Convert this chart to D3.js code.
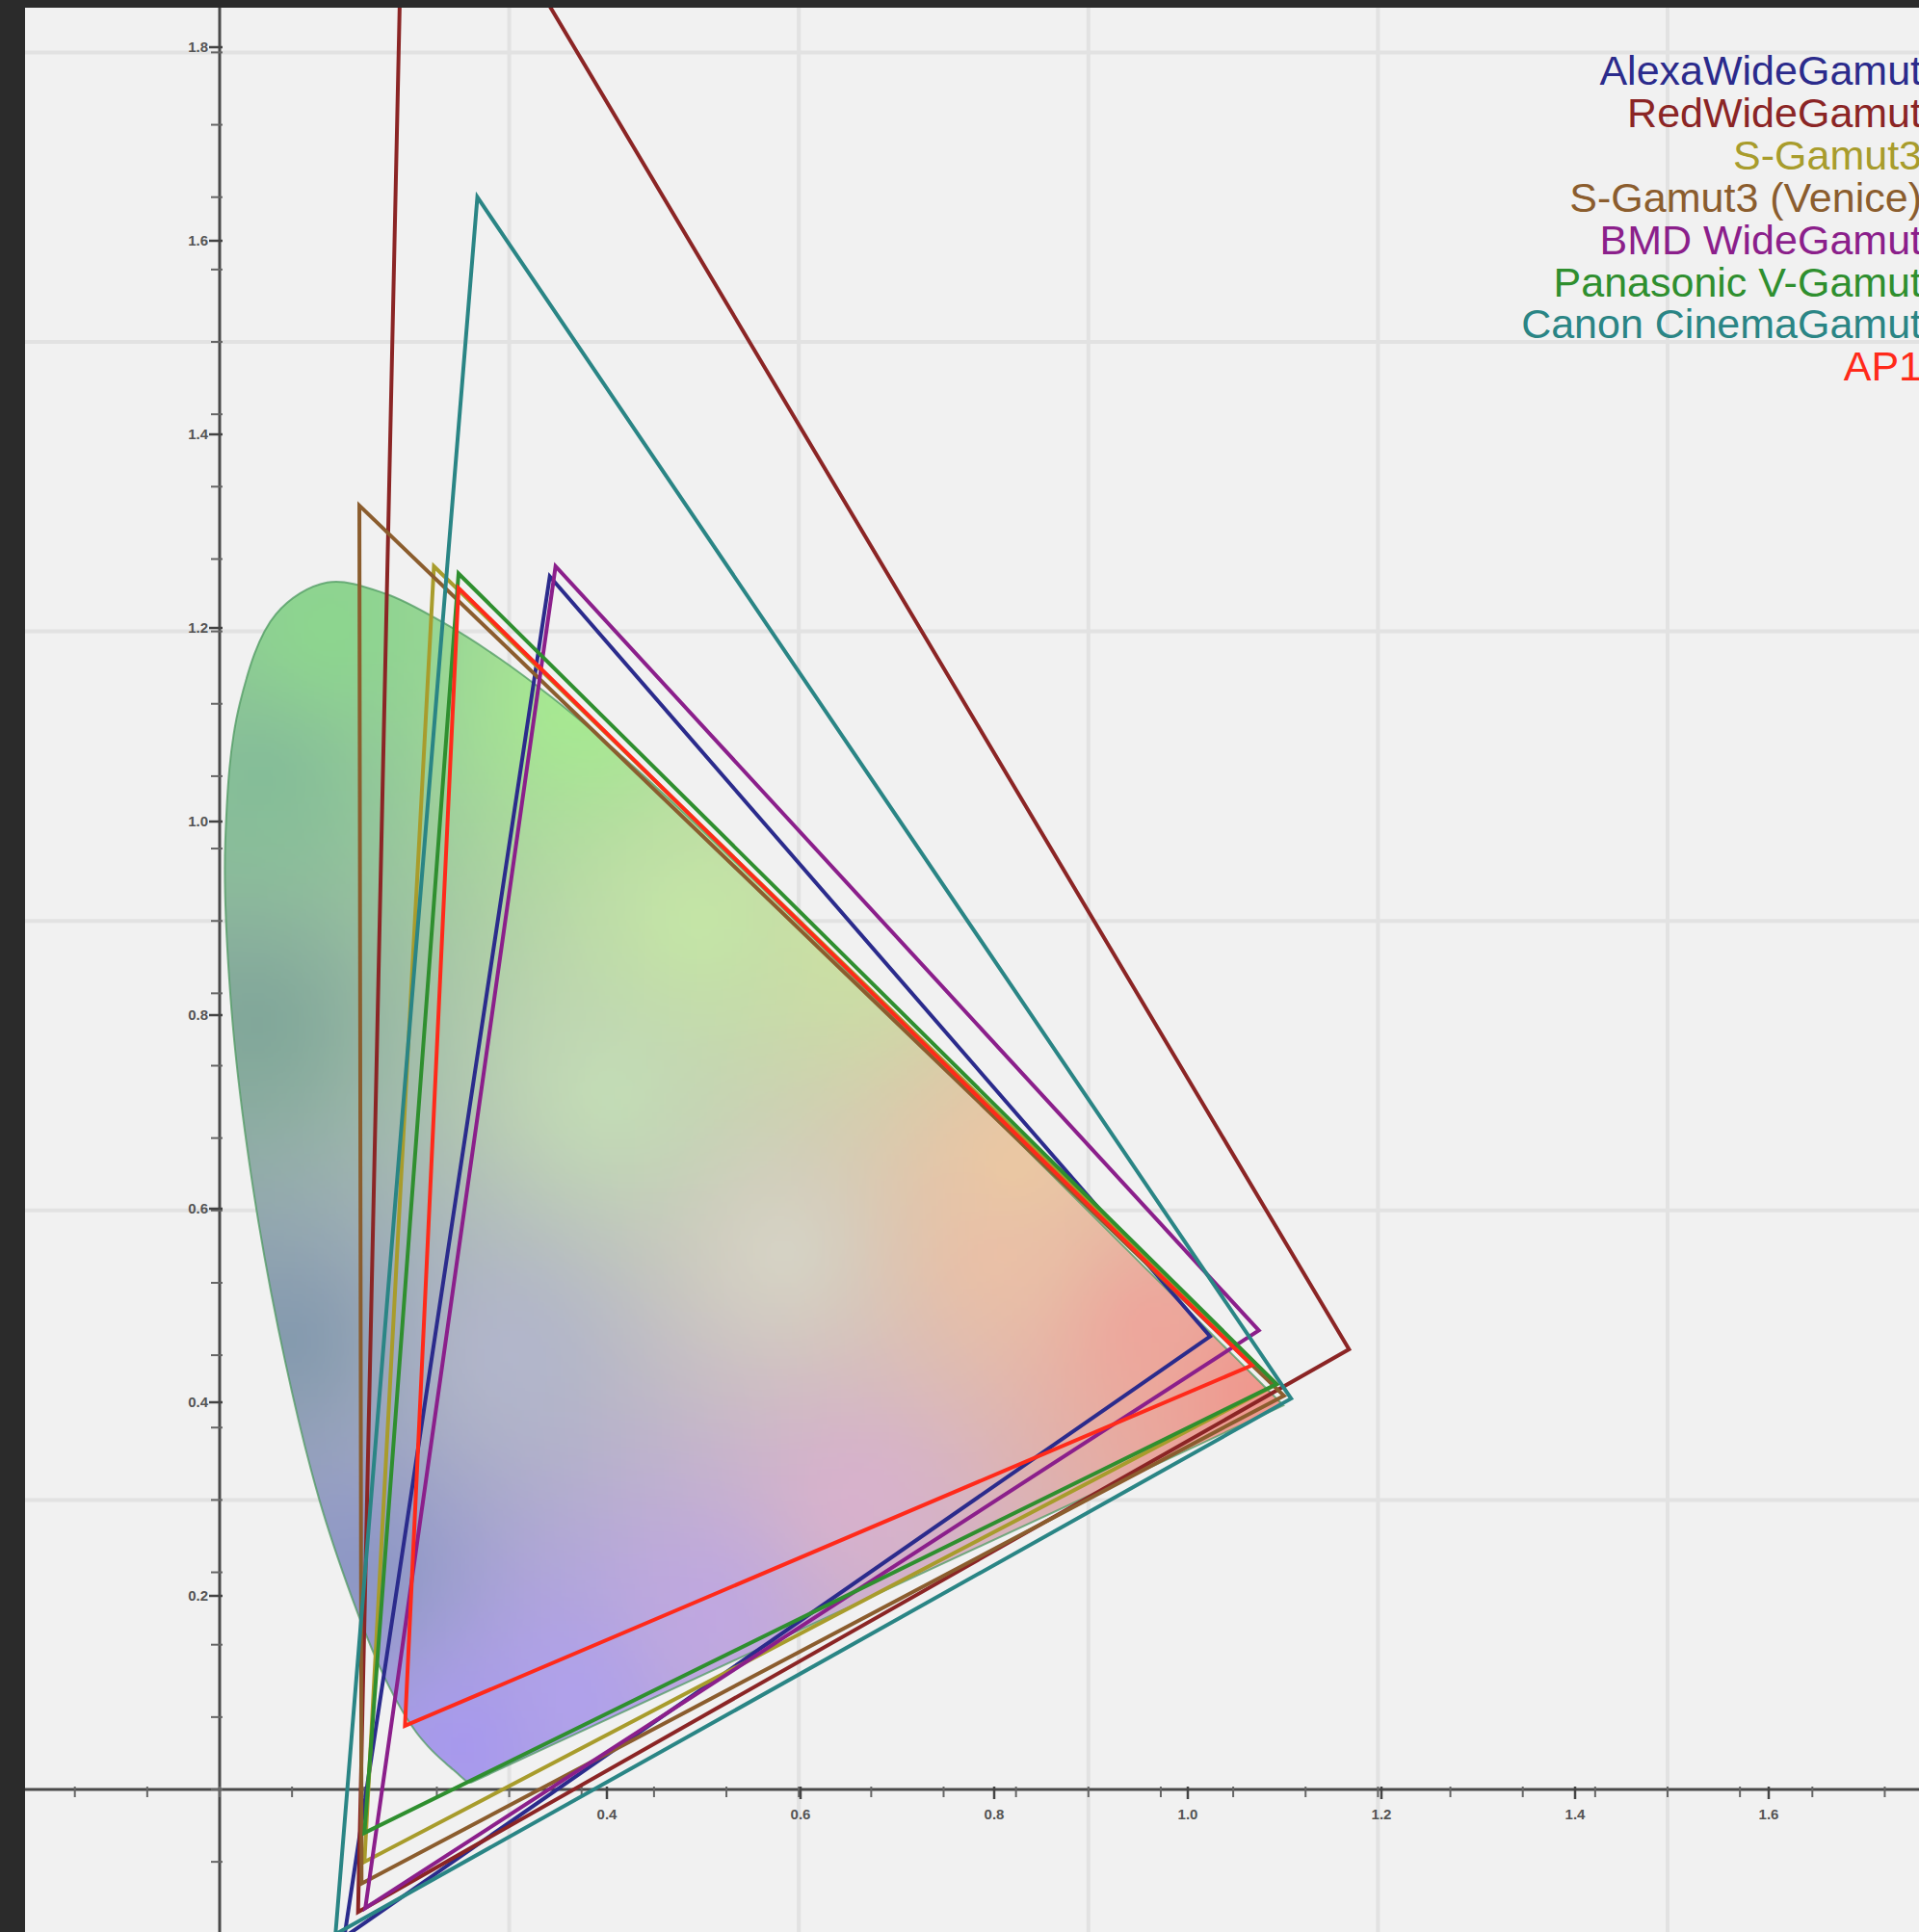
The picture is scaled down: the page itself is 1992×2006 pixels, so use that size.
<!DOCTYPE html>
<html>
<head>
<meta charset="utf-8">
<script src="https://cdn.jsdelivr.net/npm/d3@7"></script>
<style>
  html, body { margin: 0; padding: 0; background: #2b2b2b; }
  svg { display: block; }
</style>
</head>
<body>
<div id="chart"></div>
<script>
// CIE 1931 spectral locus, 380-700 nm
const locusX = [0.1741,0.1740,0.1738,0.1736,0.1733,0.1730,0.1726,0.1721,0.1714,0.1703,0.1689,0.1669,0.1644,0.1611,0.1566,0.1510,0.1440,0.1355,0.1241,0.1096,0.0913,0.0687,0.0454,0.0235,0.0082,0.0039,0.0139,0.0389,0.0743,0.1142,0.1547,0.1929,0.2296,0.2658,0.3016,0.3373,0.3731,0.4087,0.4441,0.4788,0.5125,0.5448,0.5752,0.6029,0.6270,0.6482,0.6658,0.6801,0.6915,0.7006,0.7079,0.7140,0.7190,0.7230,0.7260,0.7283,0.7300,0.7311,0.7320,0.7334,0.7344,0.7347]
const locusY = [0.0050,0.0050,0.0049,0.0049,0.0048,0.0048,0.0048,0.0048,0.0051,0.0058,0.0069,0.0086,0.0109,0.0138,0.0177,0.0227,0.0297,0.0399,0.0578,0.0868,0.1327,0.2007,0.2950,0.4127,0.5384,0.6548,0.7502,0.8120,0.8338,0.8262,0.8059,0.7816,0.7543,0.7243,0.6923,0.6589,0.6245,0.5896,0.5547,0.5202,0.4866,0.4544,0.4242,0.3965,0.3725,0.3514,0.3340,0.3197,0.3083,0.2993,0.2920,0.2859,0.2809,0.2770,0.2740,0.2717,0.2700,0.2689,0.2680,0.2666,0.2656,0.2653]

// camera gamuts, primaries as xy
const gamutNames = ['AlexaWideGamut', 'RedWideGamut', 'S-Gamut3', 'S-Gamut3 (Venice)', 'BMD WideGamut', 'Panasonic V-Gamut', 'Canon CinemaGamut', 'AP1']
const redXY   = [[0.684, 0.313], [0.780, 0.304], [0.730, 0.280], [0.735, 0.272], [0.7177, 0.3171], [0.730, 0.280], [0.740, 0.270], [0.713, 0.293]]
const greenXY = [[0.228, 0.838], [0.128, 1.400], [0.148, 0.845], [0.0965, 0.887], [0.232, 0.845], [0.165, 0.840], [0.178, 1.100], [0.165, 0.830]]
const blueXY  = [[0.0861, -0.102], [0.0956, -0.0846], [0.100, -0.050], [0.098, -0.065], [0.1006, -0.082], [0.100, -0.030], [0.080, -0.100], [0.128, 0.044]]

const xLabelTicks = [0.4, 0.6, 0.8, 1.0, 1.2, 1.4, 1.6]
const yLabelTicks = [0.2, 0.4, 0.6, 0.8, 1.0, 1.2, 1.4, 1.6, 1.8]
const gridTicksX = [0.2, 0.4, 0.6, 0.8, 1.0]
const gridTicksY = [0.2, 0.4, 0.6, 0.8, 1.0, 1.2]

const lineColors = ['#2b2b8c', '#8b2525', '#a89c2c', '#8b5d2e', '#8b1f8b', '#2f8f2f', '#2a8585', '#ff2a1a']

// colour stops used to paint the horseshoe
const fillStops = [
  [0.074, 0.80, '#8cd68e'], [0.03, 0.70, '#84bc98'], [0.026, 0.53, '#80a699'],
  [0.05, 0.31, '#8399ad'], [0.10, 0.15, '#8b96c4'], [0.17, 0.03, '#a798ef'],
  [0.25, 0.75, '#a6ea90'], [0.27, 0.48, '#c3ddb6'], [0.39, 0.37, '#d6d4c6'],
  [0.33, 0.60, '#c4e6a6'], [0.20, 0.30, '#b2b6cc'],
  [0.54, 0.37, '#ebc0a6'], [0.64, 0.32, '#eea59b'], [0.44, 0.20, '#d9b1cd'],
  [0.34, 0.12, '#c0a7e2'], [0.245, 0.064, '#b0a1ec'], [0.44, 0.587, '#cbe2a2'],
  [0.55, 0.43, '#ecc9a2'], [0.72, 0.28, '#f0968c']
]

const W = 1992, H = 2006
const frame = { left: 26, top: 8 }
const origin = { x: 228, y: 1858 }
const unit = 1503, labelUnit = 1005

const svg = d3.select('#chart').append('svg')
    .attr('width', W)
    .attr('height', H)

const defs = svg.append('defs')
defs.append('clipPath').attr('id', 'plot-clip')
    .append('rect')
    .attr('x', frame.left).attr('y', frame.top)
    .attr('width', W - frame.left).attr('height', H - frame.top)
defs.append('filter').attr('id', 'soft')
    .attr('x', -0.1).attr('y', -0.1).attr('width', 1.2).attr('height', 1.2)
    .append('feGaussianBlur').attr('stdDeviation', 8)

const x = d3.scaleLinear().domain([0, 1]).range([origin.x, origin.x + unit])
const y = d3.scaleLinear().domain([0, 1]).range([origin.y, origin.y - unit])
const xl = d3.scaleLinear().domain([0, 1]).range([origin.x, origin.x + labelUnit])
const yl = d3.scaleLinear().domain([0, 1]).range([origin.y, origin.y - labelUnit])

const plot = svg.append('g').attr('clip-path', 'url(#plot-clip)')

plot.append('rect')
    .attr('x', frame.left).attr('y', frame.top)
    .attr('width', W - frame.left).attr('height', H - frame.top)
    .attr('fill', '#f1f1f1')

// grid
plot.append('g').selectAll('line').data(gridTicksX).join('line')
    .attr('x1', d => x(d)).attr('x2', d => x(d))
    .attr('y1', frame.top).attr('y2', H)
    .attr('stroke', '#e2e2e2').attr('stroke-width', 4)
plot.append('g').selectAll('line').data(gridTicksY).join('line')
    .attr('y1', d => y(d)).attr('y2', d => y(d))
    .attr('x1', frame.left).attr('x2', W)
    .attr('stroke', '#e2e2e2').attr('stroke-width', 4)

// axes
const axisG = plot.append('g')
axisG.append('line')
    .attr('x1', frame.left).attr('x2', W)
    .attr('y1', origin.y).attr('y2', origin.y)
    .attr('stroke', '#4a4a4a').attr('stroke-width', 3)
axisG.append('line')
    .attr('x1', origin.x).attr('x2', origin.x)
    .attr('y1', frame.top).attr('y2', H)
    .attr('stroke', '#4a4a4a').attr('stroke-width', 3)

const minorX = d3.range(-2, 24).map(i => i * 0.05)
const minorY = d3.range(-1, 25).map(i => i * 0.05)
axisG.append('g').selectAll('line').data(minorX).join('line')
    .attr('x1', d => x(d)).attr('x2', d => x(d))
    .attr('y1', origin.y - 3).attr('y2', origin.y + 8)
    .attr('stroke', '#666').attr('stroke-width', 2)
axisG.append('g').selectAll('line').data(minorY).join('line')
    .attr('y1', d => y(d)).attr('y2', d => y(d))
    .attr('x1', origin.x - 9).attr('x2', origin.x + 3)
    .attr('stroke', '#666').attr('stroke-width', 2)

axisG.append('g').selectAll('line').data(xLabelTicks).join('line')
    .attr('x1', d => xl(d)).attr('x2', d => xl(d))
    .attr('y1', origin.y - 3).attr('y2', origin.y + 10)
    .attr('stroke', '#444').attr('stroke-width', 2.5)
axisG.append('g').selectAll('line').data(yLabelTicks).join('line')
    .attr('y1', d => yl(d)).attr('y2', d => yl(d))
    .attr('x1', origin.x - 11).attr('x2', origin.x + 3)
    .attr('stroke', '#444').attr('stroke-width', 2.5)

const fmt = d3.format('.1f')
axisG.append('g').selectAll('text').data(xLabelTicks).join('text')
    .attr('x', d => xl(d)).attr('y', origin.y + 31)
    .attr('text-anchor', 'middle')
    .attr('font-family', 'Liberation Sans, Arial, sans-serif')
    .attr('font-size', 15).attr('font-weight', 'bold')
    .attr('fill', '#555')
    .text(d => fmt(d))
axisG.append('g').selectAll('text').data(yLabelTicks).join('text')
    .attr('x', origin.x - 12).attr('y', d => yl(d) + 5)
    .attr('text-anchor', 'end')
    .attr('font-family', 'Liberation Sans, Arial, sans-serif')
    .attr('font-size', 15).attr('font-weight', 'bold')
    .attr('fill', '#555')
    .text(d => fmt(d))

// spectral locus, smooth curve closed by the straight line of purples
const locus = locusX.map((v, i) => [v, locusY[i]])
const locusPath = d3.line().x(d => x(d[0])).y(d => y(d[1])).curve(d3.curveCatmullRom.alpha(0.5))(locus) + 'Z'
const triLine = d3.line().x(d => x(d[0])).y(d => y(d[1])).curve(d3.curveLinearClosed)

defs.append('clipPath').attr('id', 'locus-clip')
    .append('path').attr('d', locusPath)

const stops = fillStops.map(s => ({ x: s[0], y: s[1], c: d3.rgb(s[2]) }))
function fieldColor(px, py){
    let r = 0, g = 0, b = 0, ws = 0
    for(const s of stops){
        const d = Math.hypot(px - s.x, py - s.y) + 0.05
        const w = 1 / Math.pow(d, 3)
        r += s.c.r * w; g += s.c.g * w; b += s.c.b * w; ws += w
    }
    return d3.rgb(r / ws, g / ws, b / ws)
}

const cell = 7
const [bx0, bx1] = d3.extent(locus, d => x(d[0]))
const [by0, by1] = d3.extent(locus, d => y(d[1]))
const cells = []
for(let cx = bx0 - 30; cx < bx1 + 30; cx += cell){
    for(let cy = by0 - 30; cy < by1 + 30; cy += cell){
        cells.push([cx, cy])
    }
}

const fillG = plot.append('g').attr('clip-path', 'url(#locus-clip)')
fillG.append('g').attr('filter', 'url(#soft)')
    .selectAll('rect').data(cells).join('rect')
    .attr('x', d => d[0]).attr('y', d => d[1])
    .attr('width', cell + 1).attr('height', cell + 1)
    .attr('fill', d => fieldColor(x.invert(d[0] + cell / 2), y.invert(d[1] + cell / 2)))

plot.append('path')
    .attr('d', locusPath)
    .attr('fill', 'none')
    .attr('stroke', '#4f9a62')
    .attr('stroke-width', 2)
    .attr('stroke-opacity', 0.75)

// gamut triangles
const gamuts = gamutNames.map((name, i) => ({
    name,
    pts: [redXY[i], greenXY[i], blueXY[i]],
    color: lineColors[i]
}))

plot.append('g').selectAll('path').data(gamuts).join('path')
    .attr('d', d => triLine(d.pts))
    .attr('fill', 'none')
    .attr('stroke', d => d.color)
    .attr('stroke-width', 4)
    .attr('stroke-linejoin', 'miter')

// legend, right aligned against the edge
plot.append('g').selectAll('text').data(gamuts).join('text')
    .attr('x', 1995)
    .attr('y', (d, i) => 88 + i * 43.9)
    .attr('text-anchor', 'end')
    .attr('font-family', 'Liberation Sans, Arial, sans-serif')
    .attr('font-size', 43)
    .attr('fill', d => d.color)
    .text(d => d.name)
</script>
</body>
</html>
